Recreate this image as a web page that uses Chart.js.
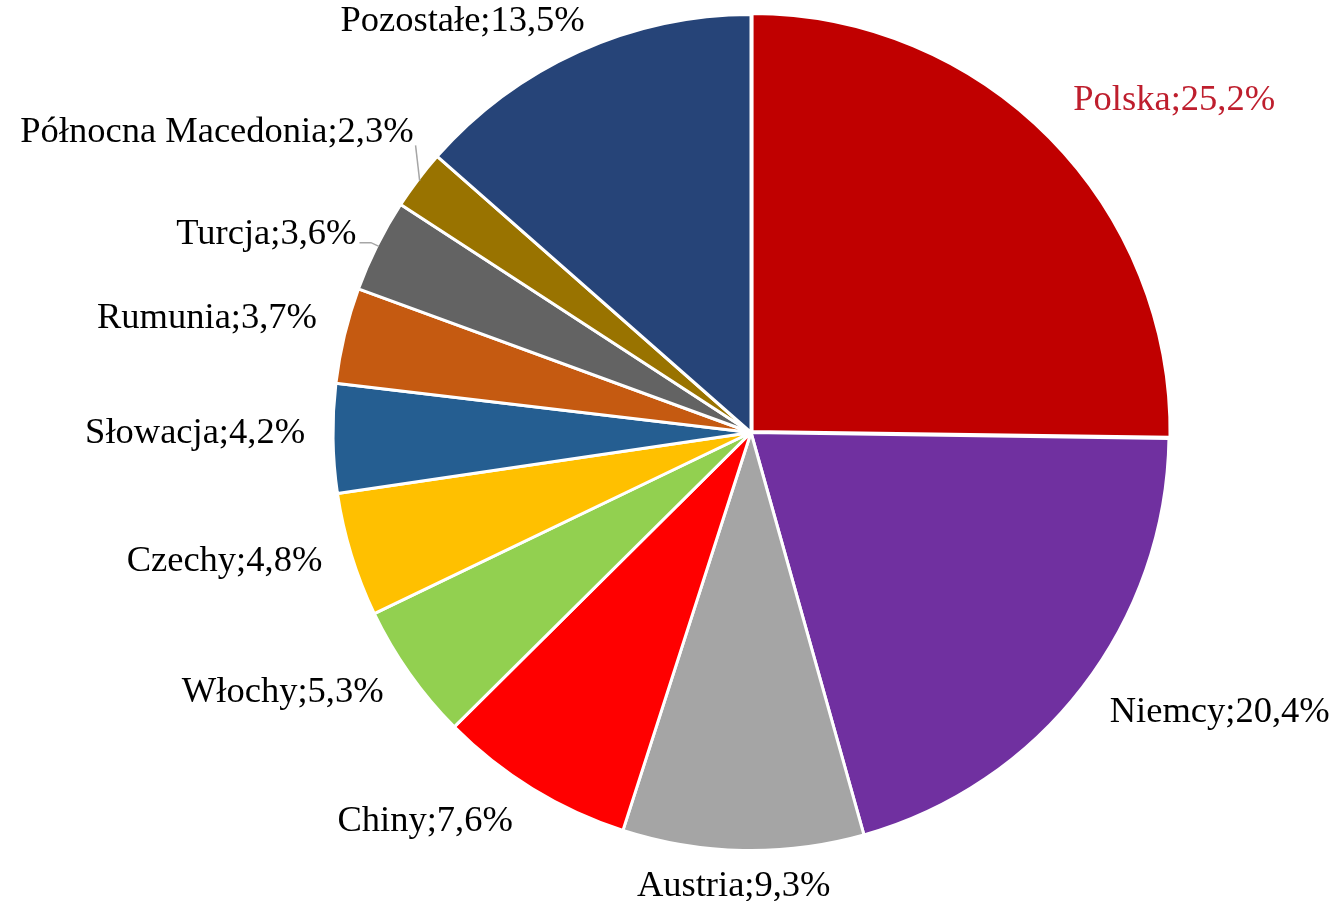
<!DOCTYPE html>
<html>
<head>
<meta charset="utf-8">
<script src="https://cdn.jsdelivr.net/npm/chart.js@4/dist/chart.umd.min.js"></script>
<style>
  html, body { margin: 0; padding: 0; background: #fff; }
  #wrap { width: 1332px; height: 901px; }
</style>
</head>
<body>
<div id="wrap"><canvas id="shareChart" width="1332" height="901"></canvas></div>
<script>
// Udział krajów (%)
const countries = ['Polska', 'Niemcy', 'Austria', 'Chiny', 'Włochy', 'Czechy', 'Słowacja', 'Rumunia', 'Turcja', 'Północna Macedonia', 'Pozostałe'];
const shares = [25.2, 20.4, 9.3, 7.6, 5.3, 4.8, 4.2, 3.7, 3.6, 2.3, 13.5];
const sliceColors = ['#C00000', '#7030A0', '#A5A5A5', '#FF0000', '#92D050', '#FFC000', '#255E91', '#C55A11', '#636363', '#997300', '#264478'];

// label tweaks (dx, dy, align) relative to a point just outside each slice
const labelNudge = [
    [9, -23, 'left'], [10, 12, 'left'], [-9, 14, 'center'], [-8, 14, 'right'],
    [-8, 6, 'right'], [-8, 0, 'right'], [-6, -5, 'right'], [-6, -12, 'right'],
    [-1, -1, 'right'], [13, -34, 'right'], [15, -10, 'right']
];
const withLeader = [8, 9];

const pieLabels = {
    id: 'pieLabels',
    afterDraw(chart) {
        const ctx = chart.ctx;
        const arcs = chart.getDatasetMeta(0).data;
        ctx.save();
        ctx.font = '36.5px "Liberation Serif", serif';
        ctx.textBaseline = 'middle';
        arcs.forEach((arc, i) => {
            const p = arc.getProps(['x', 'y', 'startAngle', 'endAngle', 'outerRadius'], true);
            const mid = (p.startAngle + p.endAngle) / 2;
            const r = p.outerRadius + 22;
            const n = labelNudge[i];
            const lx = p.x + Math.cos(mid) * r + n[0];
            const ly = p.y + Math.sin(mid) * r + n[1];
            const text = countries[i] + ';' + shares[i].toFixed(1).replace('.', ',') + '%';
            if (withLeader.includes(i)) {
                const ex = p.x + Math.cos(mid) * (p.outerRadius - 2);
                const ey = p.y + Math.sin(mid) * (p.outerRadius - 2);
                ctx.strokeStyle = '#A6A6A6';
                ctx.lineWidth = 1.5;
                ctx.beginPath();
                if (i === 8) {
                    ctx.moveTo(lx + 3, ly + 8);
                    ctx.lineTo(ex - 8, ly + 8);
                    ctx.lineTo(ex, ey);
                } else {
                    ctx.moveTo(lx + 2, ly + 13);
                    ctx.lineTo(ex, ey);
                }
                ctx.stroke();
            }
            ctx.fillStyle = i === 0 ? '#BE1E2D' : '#000000';
            ctx.textAlign = n[2];
            ctx.fillText(text, lx, ly);
        });
        ctx.restore();
    }
};

new Chart(document.getElementById('shareChart').getContext('2d'), {
    type: 'pie',
    data: {
        labels: countries,
        datasets: [{
            data: shares,
            backgroundColor: sliceColors,
            borderColor: '#ffffff',
            borderWidth: 3,
            offset: shares.map((v, i) => i === 0 ? 6 : 0)
        }]
    },
    options: {
        responsive: false,
        animation: false,
        layout: { padding: { left: 299, right: 129, top: 10, bottom: 46 } },
        plugins: {
            legend: { display: false },
            tooltip: { enabled: false }
        }
    },
    plugins: [pieLabels]
});
</script>
</body>
</html>
